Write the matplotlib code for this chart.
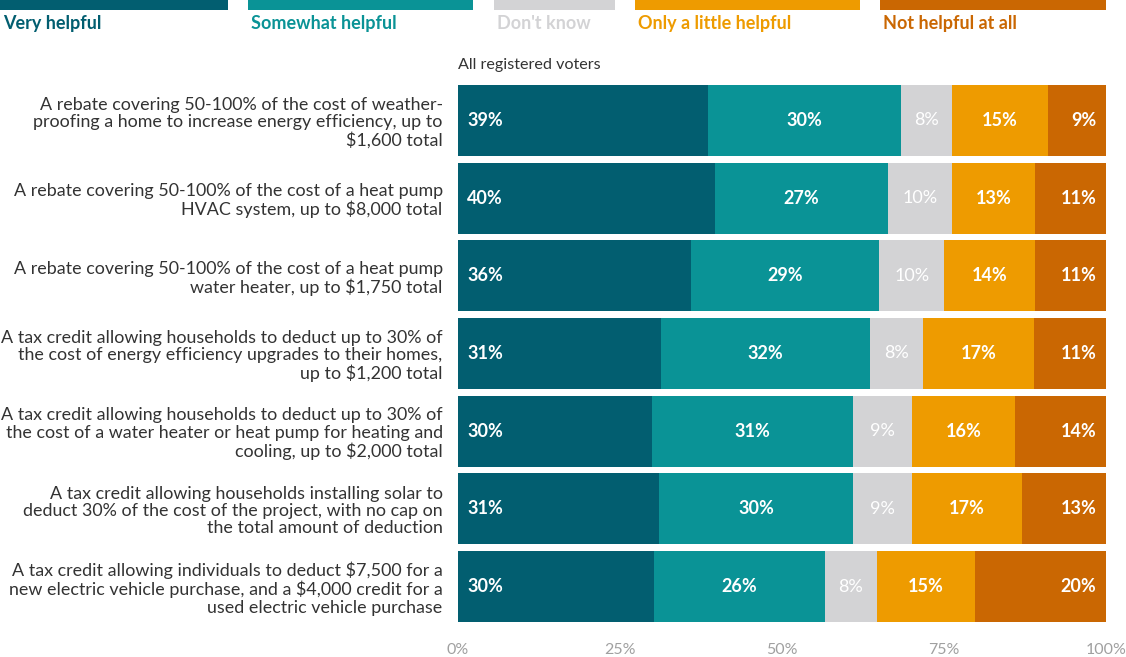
import matplotlib.pyplot as plt
from matplotlib.patches import Rectangle
import numpy as np

plt.rcParams['font.family'] = ['Lato', 'DejaVu Sans']

# Survey questions (top to bottom)
questions = [
    "A rebate covering 50-100% of the cost of weather-\nproofing a home to increase energy efficiency, up to\n$1,600 total",
    "A rebate covering 50-100% of the cost of a heat pump\nHVAC system, up to $8,000 total",
    "A rebate covering 50-100% of the cost of a heat pump\nwater heater, up to $1,750 total",
    "A tax credit allowing households to deduct up to 30% of\nthe cost of energy efficiency upgrades to their homes,\nup to $1,200 total",
    "A tax credit allowing households to deduct up to 30% of\nthe cost of a water heater or heat pump for heating and\ncooling, up to $2,000 total",
    "A tax credit allowing households installing solar to\ndeduct 30% of the cost of the project, with no cap on\nthe total amount of deduction",
    "A tax credit allowing individuals to deduct $7,500 for a\nnew electric vehicle purchase, and a $4,000 credit for a\nused electric vehicle purchase",
]

responses = ["Very helpful", "Somewhat helpful", "Don't know",
             "Only a little helpful", "Not helpful at all"]
colors = ["#025e70", "#0a9396", "#d3d3d5", "#ee9b00", "#ca6702"]

very_helpful = [39, 40, 36, 31, 30, 31, 30]
somewhat_helpful = [30, 27, 29, 32, 31, 30, 26]
dont_know = [8, 10, 10, 8, 9, 9, 8]
little_helpful = [15, 13, 14, 17, 16, 17, 15]
not_helpful = [9, 11, 11, 11, 14, 13, 20]

data = np.array([very_helpful, somewhat_helpful, dont_know,
                 little_helpful, not_helpful], float).T
shares = data / data.sum(axis=1, keepdims=True) * 100

W, H = 1126, 657
fig = plt.figure(figsize=(W / 100, H / 100), dpi=100)
ax = fig.add_axes([458 / W, (H - 622) / H, (1106 - 458) / W, (622 - 85) / H])

bh = 0.913
y = np.arange(len(questions))
left = np.zeros(len(questions))
for j in range(len(responses)):
    ax.barh(y, shares[:, j], left=left, height=bh, color=colors[j],
            edgecolor='none')
    for i in range(len(questions)):
        val = int(data[i, j])
        weight = 'normal' if j == 2 else 'bold'
        if j == 0:
            ax.text(left[i] + 1.4, y[i], f"{val}%", ha='left', va='center',
                    color='white', fontsize=13, fontweight=weight)
        elif j == len(responses) - 1:
            ax.text(left[i] + shares[i, j] - 1.5, y[i], f"{val}%", ha='right',
                    va='center', color='white', fontsize=13, fontweight=weight)
        else:
            ax.text(left[i] + shares[i, j] / 2, y[i], f"{val}%", ha='center',
                    va='center', color='white', fontsize=13, fontweight=weight)
    left += shares[:, j]

ax.set_xlim(0, 100)
ax.set_ylim(len(questions) - 1 + bh / 2, -bh / 2)
ax.set_yticks(y)
ax.set_yticklabels(questions, fontsize=12.9, color='#333333', linespacing=1.1)
ax.set_xticks([0, 25, 50, 75, 100])
ax.set_xticklabels(["0%", "25%", "50%", "75%", "100%"], color='#a0a0a0',
                   fontsize=11.5)
ax.tick_params(axis='both', length=0)
ax.tick_params(axis='y', pad=11)
ax.tick_params(axis='x', pad=15)
for s in ax.spines.values():
    s.set_visible(False)

fig.text(458 / W, 1 - 65 / H, "All registered voters", fontsize=11.6,
         color='#333333', ha='left', va='center')

# Legend: swatch bars along the top edge with labels below
legend_x = [(0, 228), (248, 473), (494, 615), (635, 860), (880, 1106)]
for (x0, x1), lab, c in zip(legend_x, responses, colors):
    fig.add_artist(Rectangle((x0 / W, 1 - 10 / H), (x1 - x0) / W, 12 / H,
                             transform=fig.transFigure, color=c, lw=0))
    fig.text((x0 + 3) / W, 1 - 23.5 / H, lab, fontsize=13, fontweight='bold',
             color=c, ha='left', va='center')

fig.savefig("out.png", dpi=100)
